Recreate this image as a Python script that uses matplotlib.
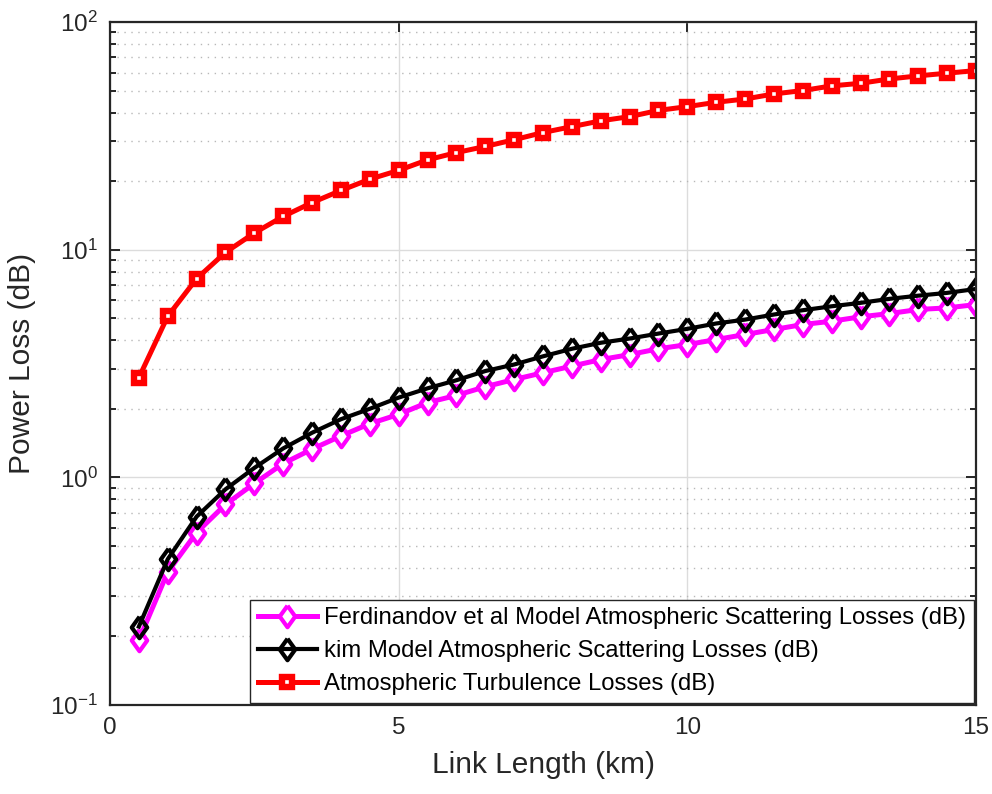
import numpy as np
import matplotlib.pyplot as plt
from matplotlib.ticker import LogLocator, FixedLocator

plt.rcParams['font.family'] = ['Liberation Sans', 'DejaVu Sans']

# Link length (km)
link_km = np.arange(1, 31) * 0.5

# Ferdinandov et al model scattering losses (dB)
ferdinandov_db = [0.193, 0.384, 0.572, 0.76, 0.94, 1.15, 1.33, 1.52, 1.72, 1.89,
                  2.13, 2.29, 2.50, 2.69, 2.88, 3.08, 3.29, 3.46, 3.67, 3.83,
                  4.03, 4.24, 4.46, 4.69, 4.85, 5.07, 5.24, 5.46, 5.55, 5.74]

# kim model scattering losses (dB)
kim_db = [0.221, 0.437, 0.672, 0.886, 1.10, 1.34, 1.57, 1.80, 2.00, 2.24,
          2.46, 2.67, 2.93, 3.13, 3.40, 3.67, 3.90, 4.07, 4.28, 4.49,
          4.74, 4.93, 5.19, 5.42, 5.64, 5.84, 6.08, 6.28, 6.46, 6.72]

# atmospheric turbulence losses (dB)
turbulence_db = [2.74, 5.10, 7.46, 9.73, 11.84, 14.0, 16.1, 18.2, 20.4, 22.3,
                 24.8, 26.7, 28.4, 30.4, 32.7, 34.7, 36.8, 38.4, 40.9, 42.5,
                 44.4, 45.9, 48.3, 50.0, 52.4, 53.8, 56.2, 58.0, 59.6, 61.2]

labels = ['Ferdinandov et al Model Atmospheric Scattering Losses (dB)',
          'kim Model Atmospheric Scattering Losses (dB)',
          'Atmospheric Turbulence Losses (dB)']

txt = '#262626'

# tall diamond like MATLAB's 'd' marker
tall_diamond = [(0, 1), (0.72, 0), (0, -1), (-0.72, 0), (0, 1)]

fig = plt.figure(figsize=(9.92, 7.94), dpi=100)
ax = fig.add_axes([0.1109, 0.1121, 0.873, 0.8602])

ax.plot(link_km, ferdinandov_db, color='#ff00ff', lw=3.6, marker=tall_diamond, ms=15.5,
        mfc='white', mec='#ff00ff', mew=3.0, label=labels[0])
ax.plot(link_km, kim_db, color='black', lw=3.0, marker=tall_diamond, ms=15.5,
        mfc='none', mec='black', mew=3.0, label=labels[1])
ax.plot(link_km, turbulence_db, color='red', lw=3.6, marker='s', ms=7.8,
        mfc='white', mec='red', mew=4.6, label=labels[2])

ax.set_yscale('log')
ax.set_xlim(0, 15)
ax.set_ylim(0.1, 100)
ax.xaxis.set_major_locator(FixedLocator([0, 5, 10, 15]))
ax.yaxis.set_major_locator(LogLocator(base=10, numticks=10))
ax.yaxis.set_minor_locator(LogLocator(base=10, subs=np.arange(2, 10), numticks=20))

ax.grid(True, which='major', color='#dcdcdc', lw=1.0)
ax.grid(True, which='minor', axis='y', color='#b8b8b8', lw=1.0, ls=(0, (1, 4)))
ax.set_axisbelow(True)

ax.tick_params(which='both', direction='in', top=True, right=True, colors=txt,
               labelsize=17.5, width=1.4)
ax.tick_params(which='major', length=7, pad=9)
ax.tick_params(which='minor', length=4)
for s in ax.spines.values():
    s.set_color(txt)
    s.set_linewidth(1.6)

ax.set_xlabel('Link Length (km)', fontsize=21.5, color=txt, labelpad=8)
ax.set_ylabel('Power Loss (dB)', fontsize=21.5, color=txt, labelpad=10)

leg = ax.legend(loc='lower right', fontsize=17.2, frameon=True, fancybox=False,
                borderaxespad=0.1, handlelength=2.5, labelspacing=0.46,
                handletextpad=0.3, borderpad=0.3)
leg.get_frame().set_edgecolor(txt)
leg.get_frame().set_linewidth(1.0)
leg.get_frame().set_alpha(1.0)
for t in leg.get_texts():
    t.set_color('black')

fig.savefig('out.png', dpi=100)
